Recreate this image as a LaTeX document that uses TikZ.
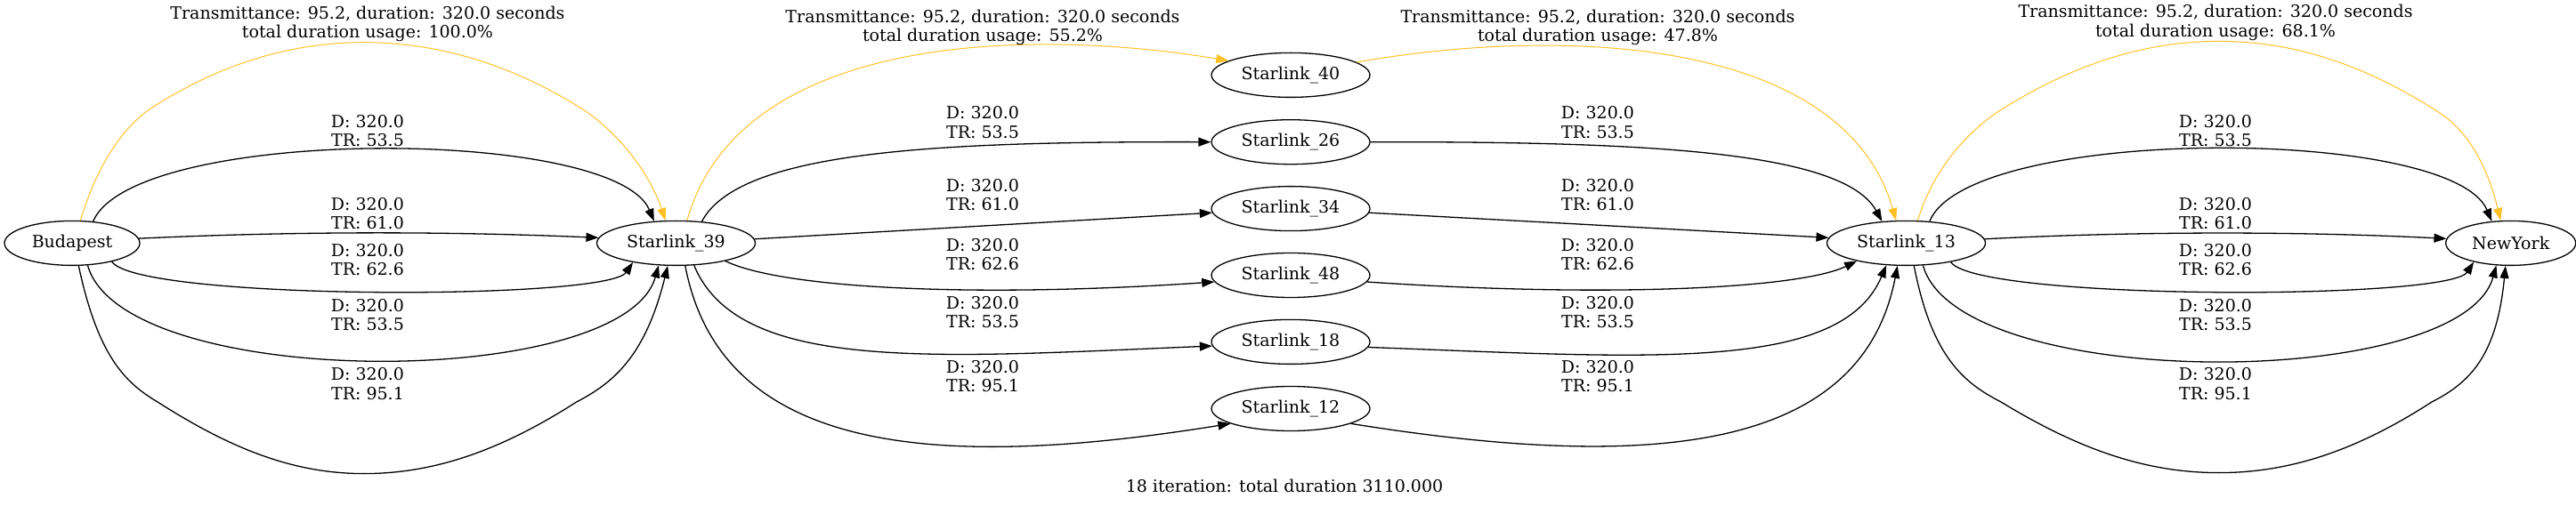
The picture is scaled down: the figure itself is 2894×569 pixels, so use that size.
\documentclass[tikz,border=0pt]{standalone}
\usepackage{fontspec}
\setmainfont{DejaVu Serif}
\usetikzlibrary{shapes.geometric,arrows.meta}
\definecolor{gold}{RGB}{255,193,37}
\begin{document}
\begin{tikzpicture}[x=1pt,y=-1pt,
  every node/.style={font=\fontsize{19}{21.5}\selectfont},
  nd/.style={draw, ellipse, line width=1.3pt, minimum width=178pt, minimum height=50pt, inner sep=0pt},
  e/.style={line width=1.3pt, -{Triangle[length=14pt,width=10pt]}},
  oe/.style={line width=1.0pt, draw=gold, -{Triangle[length=14pt,width=10pt]}},
  lbl/.style={align=center, inner sep=0pt}]
\path[use as bounding box, fill=white] (0,0) rectangle (2894,569);
% nodes
\node[nd, minimum width=152pt] (bud) at (81,273.4) {Budapest};
\node[nd] (s39) at (759.5,273.4) {Starlink\_39};
\node[nd] (s40) at (1450,84.4) {Starlink\_40};
\node[nd] (s26) at (1450,159.7) {Starlink\_26};
\node[nd] (s34) at (1450,234.6) {Starlink\_34};
\node[nd] (s48) at (1450,309.5) {Starlink\_48};
\node[nd] (s18) at (1450,384.4) {Starlink\_18};
\node[nd] (s12) at (1450,459.5) {Starlink\_12};
\node[nd] (s13) at (2141.5,273.4) {Starlink\_13};
\node[nd, minimum width=146pt] (ny) at (2820.7,273.4) {NewYork};
% Budapest -> Starlink_39
\draw[oe] (bud.70) .. controls (108,190) and (135,145) .. (170.2,121.4)
                   .. controls (250,70) and (330,47.7) .. (409,47.7)
                   .. controls (488,47.7) and (570,70) .. (652.3,121.4)
                   .. controls (690,145) and (728,190) .. (s39.115);
\draw[e] (bud.46.5) .. controls (150,141.7) and (690,141.7) .. (s39.135.6);
\draw[e] (bud.4.2) .. controls (330,260) and (500,260) .. (s39.176.8);
\draw[e] (bud.-25.7) .. controls (155,338) and (682,338) .. (s39.204.1);
\draw[e] (bud.-55.7) .. controls (138,440) and (700,440) .. (s39.232.4);
\draw[e] (bud.-74.7) .. controls (110,400) and (140,430) .. (177,452)
                     .. controls (260,505) and (330,532.6) .. (409,532.6)
                     .. controls (490,532.6) and (565,505) .. (647.7,452)
                     .. controls (690,430) and (725,400) .. (s39.250.1);
% Starlink_39 -> column
\draw[oe] (s39.64.4) .. controls (830,40) and (1150,30) .. (s40.167.8);
\draw[e] (s39.40.7) .. controls (830,170) and (1050,159) .. (s26.west);
\draw[e] (s39.3.2) -- (s34.183.2);
\draw[e] (s39.-20.2) .. controls (880,325) and (1100,335) .. (s48.185.4);
\draw[e] (s39.-51.2) .. controls (830,420) and (1050,402) .. (s18.183.7);
\draw[e] (s39.-68.3) .. controls (810,510) and (1050,530) .. (s12.194.8);
% column -> Starlink_13
\draw[oe] (s40.11.5) .. controls (1750,30) and (2070,40) .. (s13.114.6);
\draw[e] (s26.east) .. controls (1850,159) and (2071,170) .. (s13.138.8);
\draw[e] (s34.-3.2) -- (s13.176.7);
\draw[e] (s48.-5.5) .. controls (1802,335) and (2021,325) .. (s13.200.3);
\draw[e] (s18.-4.2) .. controls (1851,402) and (2068,420) .. (s13.228.4);
\draw[e] (s12.-14.7) .. controls (1851,530) and (2091,510) .. (s13.249.1);
% Starlink_13 -> NewYork
\draw[oe] (s13.63) .. controls (2172,190) and (2210,148) .. (2248,123.4)
                  .. controls (2330,72) and (2410,46.4) .. (2492.9,46.4)
                  .. controls (2576,46.4) and (2655,72) .. (2737.8,125)
                  .. controls (2775,148) and (2795,190) .. (ny.114.2);
\draw[e] (s13.43.8) .. controls (2212,141) and (2754,141) .. (ny.131);
\draw[e] (s13.3.6) .. controls (2400,260) and (2580,260) .. (ny.176);
\draw[e] (s13.-23.3) .. controls (2221,338) and (2751,338) .. (ny.207.3);
\draw[e] (s13.-53.1) .. controls (2200,441) and (2765,441) .. (ny.237.8);
\draw[e] (s13.-71.1) .. controls (2170,400) and (2205,430) .. (2248,452)
                    .. controls (2335,505) and (2410,531.6) .. (2492.9,531.6)
                    .. controls (2575,531.6) and (2650,505) .. (2732,452)
                    .. controls (2775,430) and (2805,400) .. (ny.257.8);
% labels column 1
\node[lbl] (la0) at (413,27) {Transmittance: 95.2, duration: 320.0 seconds\\total duration usage: 100.0\%};
\node[lbl] (la1) at (413,147) {D: 320.0\\TR: 53.5};
\node[lbl] (la2) at (413,240) {D: 320.0\\TR: 61.0};
\node[lbl] (la3) at (413,292) {D: 320.0\\TR: 62.6};
\node[lbl] (la4) at (413,354) {D: 320.0\\TR: 53.5};
\node[lbl] (la5) at (413,431.5) {D: 320.0\\TR: 95.1};
% labels column 2
\node[lbl] (lb0) at (1104,31) {Transmittance: 95.2, duration: 320.0 seconds\\total duration usage: 55.2\%};
\node[lbl] (lb1) at (1104,137.4) {D: 320.0\\TR: 53.5};
\node[lbl] (lb2) at (1104,219.3) {D: 320.0\\TR: 61.0};
\node[lbl] (lb3) at (1104,286) {D: 320.0\\TR: 62.6};
\node[lbl] (lb4) at (1104,351) {D: 320.0\\TR: 53.5};
\node[lbl] (lb5) at (1104,423.3) {D: 320.0\\TR: 95.1};
% labels column 3
\node[lbl] (lc0) at (1795,31) {Transmittance: 95.2, duration: 320.0 seconds\\total duration usage: 47.8\%};
\node[lbl] (lc1) at (1795,137.4) {D: 320.0\\TR: 53.5};
\node[lbl] (lc2) at (1795,219.3) {D: 320.0\\TR: 61.0};
\node[lbl] (lc3) at (1795,286) {D: 320.0\\TR: 62.6};
\node[lbl] (lc4) at (1795,351) {D: 320.0\\TR: 53.5};
\node[lbl] (lc5) at (1795,423.3) {D: 320.0\\TR: 95.1};
% labels column 4
\node[lbl] (ld0) at (2489,25.4) {Transmittance: 95.2, duration: 320.0 seconds\\total duration usage: 68.1\%};
\node[lbl] (ld1) at (2489,147) {D: 320.0\\TR: 53.5};
\node[lbl] (ld2) at (2489,240) {D: 320.0\\TR: 61.0};
\node[lbl] (ld3) at (2489,292) {D: 320.0\\TR: 62.6};
\node[lbl] (ld4) at (2489,354) {D: 320.0\\TR: 53.5};
\node[lbl] (ld5) at (2489,431.5) {D: 320.0\\TR: 95.1};
% caption
\node[lbl] (cap) at (1443,546) {18 iteration: total duration 3110.000};
\end{tikzpicture}
\end{document}
